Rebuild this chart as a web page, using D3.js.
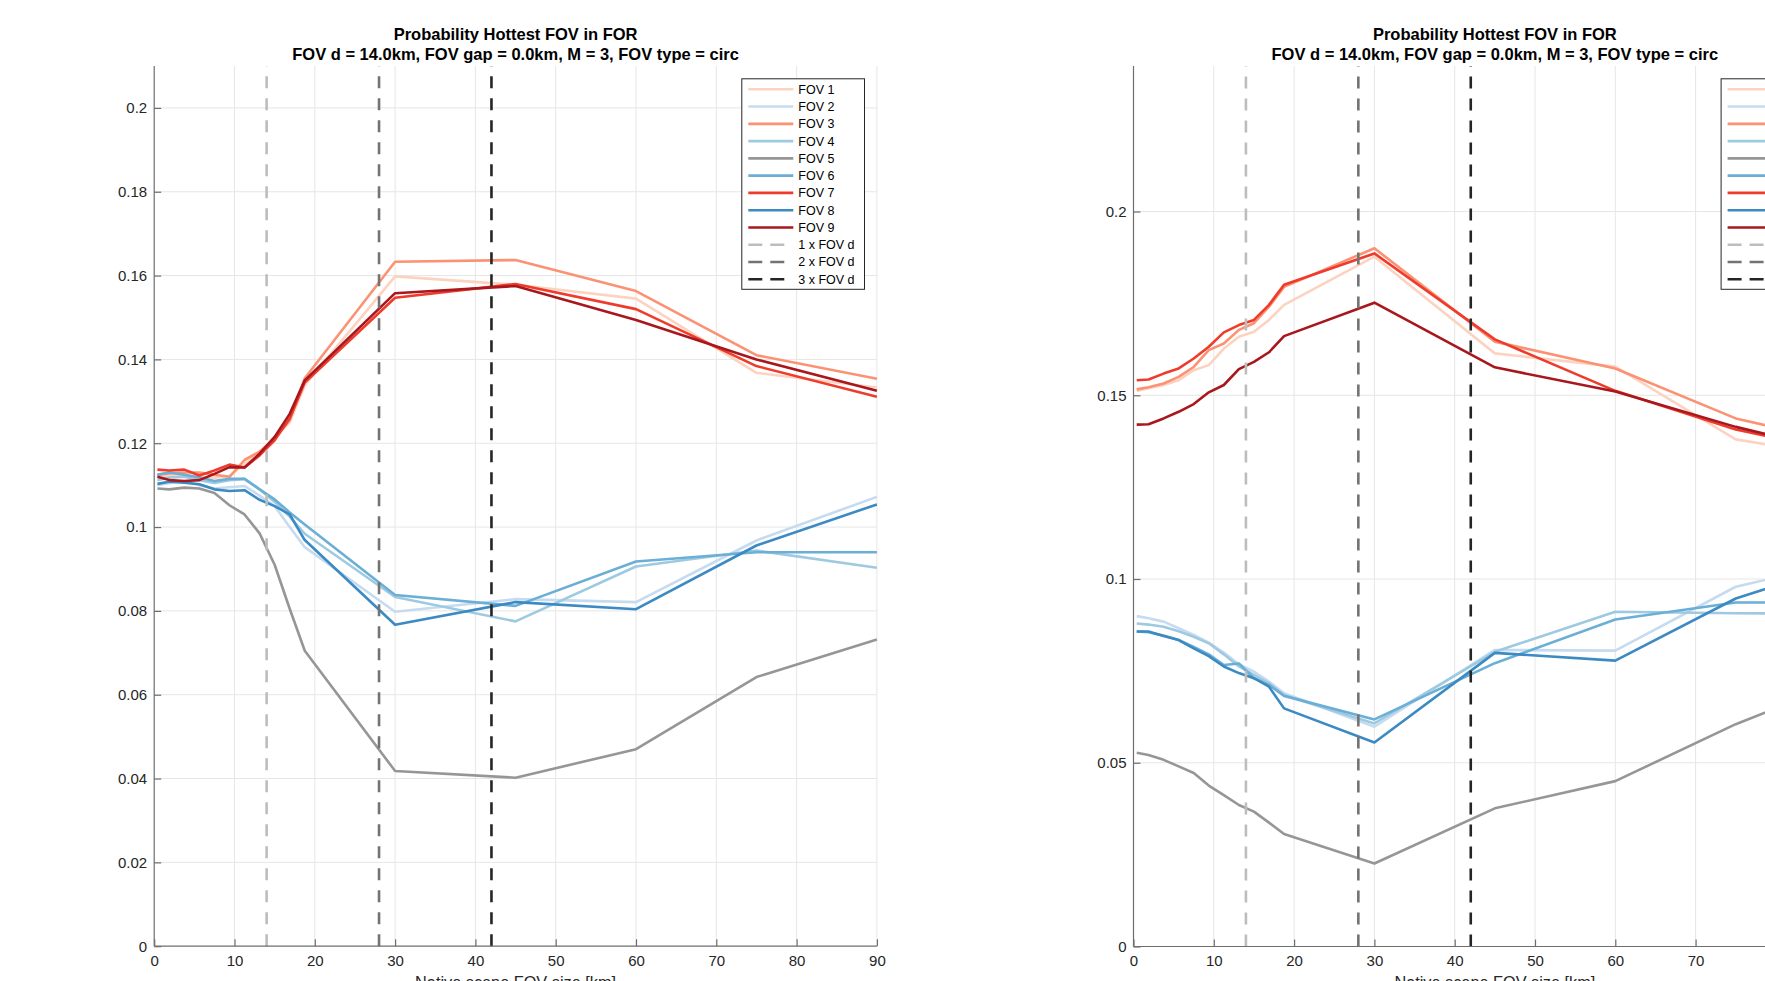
<!DOCTYPE html>
<html><head><meta charset="utf-8">
<script src="https://cdn.jsdelivr.net/npm/d3@7"></script>
<style>html,body{margin:0;padding:0;background:#fff;overflow:hidden}</style>
</head><body><svg id="chart" width="1765" height="981"></svg>
<script>
// ---------------- DATA ----------------
const xKm = [0.4, 1.875, 3.75, 5.625, 7.5, 9.375, 11.25, 13.125, 15, 16.875, 18.75, 30, 45, 60, 75, 90];
const seriesNames = ["FOV 1","FOV 2","FOV 3","FOV 4","FOV 5","FOV 6","FOV 7","FOV 8","FOV 9"];

// left panel
const left_FOV1 = [0.1120,0.1122,0.1125,0.1120,0.1118,0.1122,0.1150,0.1175,0.1215,0.1250,0.1338,0.1598,0.1578,0.1545,0.1368,0.1333];
const left_FOV2 = [0.1100,0.1105,0.1110,0.1100,0.1092,0.1095,0.1098,0.1075,0.1050,0.1000,0.0952,0.0798,0.0828,0.0821,0.0968,0.1072];
const left_FOV3 = [0.1125,0.1128,0.1130,0.1130,0.1125,0.1120,0.1160,0.1180,0.1212,0.1255,0.1355,0.1633,0.1637,0.1563,0.1410,0.1354];
const left_FOV4 = [0.1112,0.1118,0.1120,0.1112,0.1105,0.1112,0.1115,0.1090,0.1060,0.1025,0.0984,0.0833,0.0775,0.0906,0.0944,0.0903];
const left_FOV5 = [0.1092,0.1090,0.1094,0.1092,0.1081,0.1052,0.1030,0.0985,0.0910,0.0805,0.0705,0.0418,0.0402,0.0470,0.0642,0.0732];
const left_FOV6 = [0.1125,0.1130,0.1125,0.1118,0.1110,0.1115,0.1115,0.1090,0.1066,0.1035,0.1006,0.0838,0.0812,0.0918,0.0940,0.0940];
const left_FOV7 = [0.1137,0.1135,0.1137,0.1123,0.1135,0.1149,0.1142,0.1171,0.1207,0.1259,0.1345,0.1547,0.1580,0.1520,0.1384,0.1311];
const left_FOV8 = [0.1103,0.1108,0.1106,0.1102,0.1090,0.1086,0.1088,0.1065,0.1050,0.1030,0.0969,0.0767,0.0821,0.0804,0.0956,0.1054];
const left_FOV9 = [0.1120,0.1112,0.1110,0.1112,0.1127,0.1143,0.1142,0.1175,0.1215,0.1270,0.1350,0.1558,0.1575,0.1494,0.1400,0.1325];

// right panel
const right_FOV1 = [0.1512,0.1519,0.1528,0.1541,0.1568,0.1582,0.1627,0.1659,0.1673,0.1705,0.1746,0.1877,0.1614,0.1578,0.1380,0.1326];
const right_FOV2 = [0.0899,0.0893,0.0884,0.0866,0.0848,0.0827,0.0800,0.0768,0.0748,0.0721,0.0689,0.0598,0.0807,0.0805,0.0979,0.1054];
const right_FOV3 = [0.1516,0.1522,0.1532,0.1550,0.1577,0.1623,0.1641,0.1678,0.1696,0.1741,0.1795,0.1900,0.1646,0.1573,0.1437,0.1362];
const right_FOV4 = [0.0879,0.0876,0.0870,0.0858,0.0843,0.0825,0.0795,0.0762,0.0739,0.0716,0.0684,0.0607,0.0802,0.0911,0.0907,0.0905];
const right_FOV5 = [0.0527,0.0521,0.0508,0.0490,0.0472,0.0438,0.0412,0.0385,0.0367,0.0337,0.0306,0.0226,0.0376,0.0450,0.0605,0.0735];
const right_FOV6 = [0.0857,0.0855,0.0846,0.0834,0.0815,0.0795,0.0766,0.0770,0.0730,0.0712,0.0682,0.0618,0.0771,0.0890,0.0936,0.0936];
const right_FOV7 = [0.1541,0.1543,0.1559,0.1573,0.1600,0.1632,0.1671,0.1691,0.1705,0.1746,0.1801,0.1886,0.1652,0.1512,0.1407,0.1336];
const right_FOV8 = [0.0857,0.0857,0.0845,0.0834,0.0811,0.0790,0.0762,0.0744,0.0730,0.0707,0.0648,0.0555,0.0799,0.0778,0.0947,0.1052];
const right_FOV9 = [0.1420,0.1421,0.1437,0.1455,0.1476,0.1508,0.1528,0.1571,0.1591,0.1617,0.1661,0.1752,0.1576,0.1510,0.1414,0.1335];

const refLineX = [14, 28, 42];
const refLineNames = ["1 x FOV d", "2 x FOV d", "3 x FOV d"];

const xTicks = [0,10,20,30,40,50,60,70,80,90];
const leftYTicks = [0,0.02,0.04,0.06,0.08,0.1,0.12,0.14,0.16,0.18,0.2];
const leftYTickLabels = ["0","0.02","0.04","0.06","0.08","0.1","0.12","0.14","0.16","0.18","0.2"];
const rightYTicks = [0,0.05,0.1,0.15,0.2];
const rightYTickLabels = ["0","0.05","0.1","0.15","0.2"];

const titleLine1 = "Probability Hottest FOV in FOR";
const titleLine2 = "FOV d = 14.0km, FOV gap = 0.0km, M = 3, FOV type = circ";
const xLabel = "Native scene FOV size [km]";

// ---------------- STYLE ----------------
const seriesColors = ["#fcd3c1","#c6dbef","#fb9273","#9ecae1","#969696","#6baed6","#ef3b2c","#3c8ac3","#a8171c"];
const refColors = ["#bdbdbd","#737373","#252525"];
const FONT = "'Liberation Sans', Arial, Helvetica, sans-serif";

const svg = d3.select("#chart");

function drawPanel(cfg) {
  const x = d3.scaleLinear().domain([0, 90]).range([cfg.xL, cfg.xR]);
  const y = d3.scaleLinear().domain([0, cfg.yMax]).range([cfg.yB, cfg.yT]);
  const g = svg.append("g");

  // grid
  g.append("g").selectAll("line").data(xTicks.filter(t => t > 0)).join("line")
    .attr("x1", d => x(d)).attr("x2", d => x(d)).attr("y1", cfg.yT).attr("y2", cfg.yB)
    .attr("stroke", "#e6e6e6").attr("stroke-width", 1);
  g.append("g").selectAll("line").data(cfg.yTicks.filter(t => t > 0)).join("line")
    .attr("x1", cfg.xL).attr("x2", cfg.xR).attr("y1", d => y(d)).attr("y2", d => y(d))
    .attr("stroke", "#e6e6e6").attr("stroke-width", 1);

  // series
  const line = d3.line().x(d => x(d[0])).y(d => y(d[1]));
  cfg.series.forEach((vals, i) => {
    g.append("path").datum(xKm.map((k, j) => [k, vals[j]]))
      .attr("d", line).attr("fill", "none")
      .attr("stroke", seriesColors[i]).attr("stroke-width", 2.6)
      .attr("stroke-linejoin", "round").attr("stroke-linecap", "butt");
  });

  // reference dashed lines
  refLineX.forEach((v, i) => {
    g.append("line").attr("x1", x(v)).attr("x2", x(v)).attr("y1", cfg.yB).attr("y2", cfg.yT)
      .attr("stroke", refColors[i]).attr("stroke-width", 2.6).attr("stroke-dasharray", "12,10");
  });

  // axes (MATLAB style: inward ticks, no box)
  const xAxis = d3.axisBottom(x).tickValues(xTicks).tickSizeInner(-7).tickSizeOuter(0).tickPadding(9);
  const gx = g.append("g").attr("transform", `translate(0,${cfg.yB})`).call(xAxis);
  const yAxis = d3.axisLeft(y).tickValues(cfg.yTicks).tickFormat((d, i) => cfg.yTickLabels[i])
    .tickSizeInner(-7).tickSizeOuter(0).tickPadding(7);
  const gy = g.append("g").attr("transform", `translate(${cfg.xL},0)`).call(yAxis);
  [gx, gy].forEach(a => {
    a.select(".domain").attr("stroke", "#6e6e6e").attr("stroke-width", 1.2);
    a.selectAll(".tick line").attr("stroke", "#6e6e6e").attr("stroke-width", 1.2);
    a.selectAll(".tick text").attr("fill", "#262626").attr("font-family", FONT).attr("font-size", 15);
  });
  gy.select(".domain").attr("d", `M0,${cfg.yB}V${cfg.yT}`);
  gx.select(".domain").attr("d", `M${cfg.xL},0H${cfg.xR}`);

  // titles
  const cx = (cfg.xL + cfg.xR) / 2;
  g.append("text").attr("x", cx).attr("y", 39.5).attr("text-anchor", "middle")
    .attr("font-family", FONT).attr("font-weight", "bold").attr("font-size", 16.5)
    .attr("fill", "#000").text(titleLine1);
  g.append("text").attr("x", cx).attr("y", 59.5).attr("text-anchor", "middle")
    .attr("font-family", FONT).attr("font-weight", "bold").attr("font-size", 16.5)
    .attr("fill", "#000").text(titleLine2);
  g.append("text").attr("x", cx).attr("y", 988).attr("text-anchor", "middle")
    .attr("font-family", FONT).attr("font-size", 16.3).attr("fill", "#262626").text(xLabel);

  // legend
  const lw = 122.7, lh = 210.5;
  const lx = cfg.xR - 12.4 - lw, ly = 78.8;
  const lg = g.append("g").attr("transform", `translate(${lx},${ly})`);
  lg.append("rect").attr("x", 0).attr("y", 0).attr("width", lw).attr("height", lh)
    .attr("fill", "#fff").attr("stroke", "#262626").attr("stroke-width", 1);
  const rows = seriesNames.map((n, i) => ({name: n, color: seriesColors[i], dash: null}))
    .concat(refLineNames.map((n, i) => ({name: n, color: refColors[i], dash: "14,8"})));
  rows.forEach((r, i) => {
    const yy = 10.5 + i * 17.27;
    lg.append("line").attr("x1", 6.5).attr("x2", r.dash ? 42.5 : 51.5).attr("y1", yy).attr("y2", yy)
      .attr("stroke", r.color).attr("stroke-width", 2.6)
      .attr("stroke-dasharray", r.dash);
    lg.append("text").attr("x", 56.5).attr("y", yy + 4.5).attr("font-family", FONT)
      .attr("font-size", 12.5).attr("fill", "#000").text(r.name);
  });
}

drawPanel({
  xL: 154.2, xR: 876.9, yT: 66, yB: 946.2, yMax: 0.21,
  yTicks: leftYTicks, yTickLabels: leftYTickLabels,
  series: [left_FOV1,left_FOV2,left_FOV3,left_FOV4,left_FOV5,left_FOV6,left_FOV7,left_FOV8,left_FOV9]
});
drawPanel({
  xL: 1133.5, xR: 1856.2, yT: 66, yB: 946.5, yMax: 0.2396,
  yTicks: rightYTicks, yTickLabels: rightYTickLabels,
  series: [right_FOV1,right_FOV2,right_FOV3,right_FOV4,right_FOV5,right_FOV6,right_FOV7,right_FOV8,right_FOV9]
});
</script>
</body></html>
